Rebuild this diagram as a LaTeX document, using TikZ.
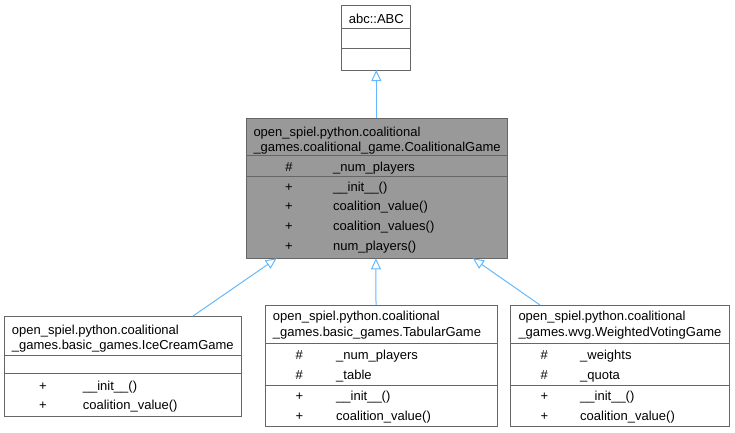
\documentclass[tikz,border=0pt]{standalone}
\usepackage{fontspec}
\setmainfont{Liberation Sans}
\usetikzlibrary{arrows.meta,calc}
\definecolor{boxgray}{HTML}{666666}
\definecolor{edgeblue}{HTML}{63B8FF}
\definecolor{cgfill}{HTML}{999999}
\begin{document}
\begin{tikzpicture}[x=1bp,y=-1bp,
  box/.style={draw=boxgray, line width=1bp, fill=white, inner sep=0pt, outer sep=0pt, rectangle},
  txt/.style={anchor=base west, inner sep=0pt, font=\fontsize{13bp}{15bp}\selectfont},
  ctxt/.style={anchor=base, inner sep=0pt, font=\fontsize{13bp}{15bp}\selectfont},
  divline/.style={draw=boxgray, line width=1bp},
  inh/.style={draw=edgeblue, line width=1bp, -{Triangle[open,length=11bp,width=10bp]}}]
\useasboundingbox (0,0) rectangle (735,432);

% abc::ABC
\node[box, minimum width=69.3bp, minimum height=65bp] (abc) at (376.3,37.5) {};
\draw[divline] (abc.west |- 0,28.3) -- (abc.east |- 0,28.3);
\draw[divline] (abc.west |- 0,48.3) -- (abc.east |- 0,48.3);
\node[ctxt] (abct) at (376.3,23) {abc::ABC};

% CoalitionalGame
\node[box, fill=cgfill, minimum width=261.3bp, minimum height=140bp] (cg) at (377.3,188.3) {};
\draw[divline] (cg.west |- 0,155.7) -- (cg.east |- 0,155.7);
\draw[divline] (cg.west |- 0,176) -- (cg.east |- 0,176);
\node[txt] (cgt1) at (253.3,136) {open\_spiel.python.coalitional};
\node[txt] (cgt2) at (253.3,151) {\_games.coalitional\_game.CoalitionalGame};
\node[ctxt] (cgv1) at (289,171) {\#};
\node[txt] (cga1) at (333,171) {\_num\_players};
\node[ctxt] (cgv2) at (289,191) {+};
\node[txt] (cgm1) at (333,191) {\_\_init\_\_()};
\node[ctxt] (cgv3) at (289,210.7) {+};
\node[txt] (cgm2) at (333,210.7) {coalition\_value()};
\node[ctxt] (cgv4) at (289,230.7) {+};
\node[txt] (cgm3) at (333,230.7) {coalition\_values()};
\node[ctxt] (cgv5) at (289,250.7) {+};
\node[txt] (cgm4) at (333,250.7) {num\_players()};

% IceCreamGame
\node[box, minimum width=236bp, minimum height=100bp] (ice) at (123,366) {};
\draw[divline] (ice.west |- 0,355) -- (ice.east |- 0,355);
\draw[divline] (ice.west |- 0,373.3) -- (ice.east |- 0,373.3);
\node[txt] (icet1) at (11.7,334) {open\_spiel.python.coalitional};
\node[txt] (icet2) at (11.7,349) {\_games.basic\_games.IceCreamGame};
\node[ctxt] (icev1) at (43,390) {+};
\node[txt] (icem1) at (82.7,390) {\_\_init\_\_()};
\node[ctxt] (icev2) at (43,409) {+};
\node[txt] (icem2) at (82.7,409) {coalition\_value()};

% TabularGame
\node[box, minimum width=231.8bp, minimum height=121.5bp] (tab) at (381.4,365.75) {};
\draw[divline] (tab.west |- 0,343.3) -- (tab.east |- 0,343.3);
\draw[divline] (tab.west |- 0,385) -- (tab.east |- 0,385);
\node[txt] (tabt1) at (272.7,320) {open\_spiel.python.coalitional};
\node[txt] (tabt2) at (272.7,336) {\_games.basic\_games.TabularGame};
\node[ctxt] (tabv1) at (299.3,359) {\#};
\node[txt] (taba1) at (336,359) {\_num\_players};
\node[ctxt] (tabv2) at (299.3,379) {\#};
\node[txt] (taba2) at (336,379) {\_table};
\node[ctxt] (tabv3) at (299.3,400.7) {+};
\node[txt] (tabm1) at (336,400.7) {\_\_init\_\_()};
\node[ctxt] (tabv4) at (299.3,420.7) {+};
\node[txt] (tabm2) at (336,420.7) {coalition\_value()};

% WeightedVotingGame
\node[box, minimum width=219.3bp, minimum height=121.5bp] (wvg) at (619.65,365.75) {};
\draw[divline] (wvg.west |- 0,343.3) -- (wvg.east |- 0,343.3);
\draw[divline] (wvg.west |- 0,385) -- (wvg.east |- 0,385);
\node[txt] (wvgt1) at (518.3,320) {open\_spiel.python.coalitional};
\node[txt] (wvgt2) at (518.3,336) {\_games.wvg.WeightedVotingGame};
\node[ctxt] (wvgv1) at (544.3,359) {\#};
\node[txt] (wvga1) at (580,359) {\_weights};
\node[ctxt] (wvgv2) at (544.3,379) {\#};
\node[txt] (wvga2) at (580,379) {\_quota};
\node[ctxt] (wvgv3) at (544.3,400.7) {+};
\node[txt] (wvgm1) at (580,400.7) {\_\_init\_\_()};
\node[ctxt] (wvgv4) at (544.3,420.7) {+};
\node[txt] (wvgm2) at (580,420.7) {coalition\_value()};

% inheritance connectors
\draw[inh] (cg.north -| abc.south) -- (abc.south);
\draw[inh] ($(ice.north west)+(188,0)$) -- ($(cg.south west)+(30,0)$);
\draw[inh] ($(tab.north west)+(110.5,0)$) -- ($(cg.south west)+(129.3,0)$);
\draw[inh] ($(wvg.north west)+(30,0)$) -- ($(cg.south west)+(226.3,0)$);
\end{tikzpicture}
\end{document}
